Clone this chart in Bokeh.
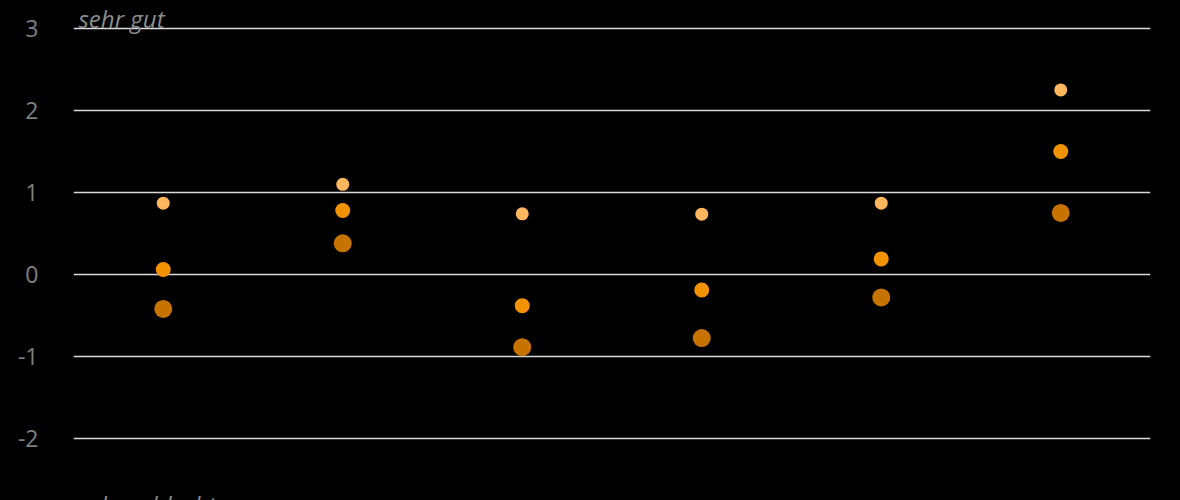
from bokeh.plotting import figure
from bokeh.models import ColumnDataSource, FactorRange, Range1d, FixedTicker, Label
from bokeh.embed import file_html
from bokeh.resources import INLINE

categories = ["1", "2", "3", "4", "5", "6"]
series_light = [0.87, 1.10, 0.74, 0.735, 0.87, 2.25]
series_mid = [0.06, 0.78, -0.38, -0.19, 0.19, 1.50]
series_dark = [-0.42, 0.38, -0.886, -0.775, -0.28, 0.75]
y_ticks = [-3, -2, -1, 0, 1, 2, 3]
top_label = "sehr gut"
bottom_label = "sehr schlecht"

p = figure(width=1180, height=500, output_backend="svg", toolbar_location=None,
           x_range=FactorRange(*categories, range_padding=0),
           y_range=Range1d(-2.756, 3.341),
           min_border_left=73, min_border_right=30, min_border_top=0, min_border_bottom=0,
           background_fill_color="black", border_fill_color="black")
p.styles = {"background-color": "black"}
p.outline_line_color = None
p.xaxis.visible = False
p.xgrid.grid_line_color = None
p.ygrid.grid_line_color = "#D9D9D9"
p.ygrid.grid_line_width = 1.5
p.yaxis.ticker = FixedTicker(ticks=y_ticks)
p.yaxis.major_label_overrides = {t: str(t) for t in y_ticks}
p.yaxis.axis_line_color = None
p.yaxis.major_tick_line_color = None
p.yaxis.minor_tick_line_color = None
p.yaxis.major_label_standoff = 29
p.yaxis.major_label_text_color = "#7F7F7F"
p.yaxis.major_label_text_font = "Open Sans"
p.yaxis.major_label_text_font_size = "23px"

src = ColumnDataSource(dict(x=categories, light=series_light, mid=series_mid, dark=series_dark))
p.scatter("x", "dark", source=src, size=18, color="#C67300", line_color=None)
p.scatter("x", "mid", source=src, size=15, color="#F39200", line_color=None)
p.scatter("x", "light", source=src, size=13, color="#FFB65C", line_color=None)

for txt, yv, off in [(top_label, 3, 10), (bottom_label, -3, 16)]:
    p.add_layout(Label(x=0, y=yv, x_offset=5, y_offset=off, text=txt,
                       text_font="Open Sans", text_font_style="italic",
                       text_font_size="24px", text_color="#8C8C8C",
                       text_baseline="alphabetic"))

open("out.html", "w").write(file_html(p, INLINE))
